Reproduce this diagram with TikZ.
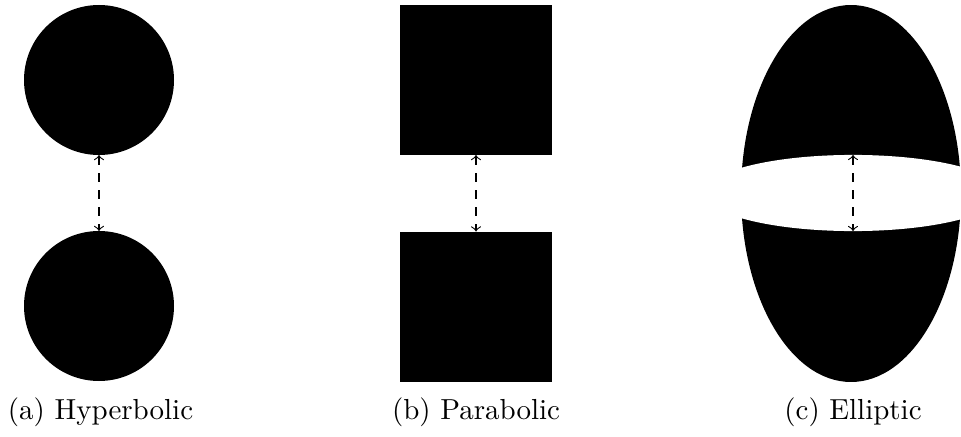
\documentclass[tikz,border=0pt]{standalone}
\usepackage{tikz}
\usetikzlibrary{shapes.geometric}
\tikzset{
  blob-circle/.style={circle,fill=black,inner sep=0pt,outer sep=0pt,minimum size=52.8pt},
  blob-square/.style={rectangle,fill=black,inner sep=0pt,outer sep=0pt,
    minimum width=53.5pt,minimum height=52.8pt},
  blob-ellipse/.style={ellipse,fill=black,inner sep=0pt,outer sep=0pt,
    minimum width=77.4pt,minimum height=132.7pt},
  gap-band/.style={ellipse,fill=white,inner sep=0pt,outer sep=0pt,
    minimum width=104.9pt,minimum height=26.8pt},
  arrow-dist/.style={<->,dashed,thin},
  caption/.style={anchor=base,inner sep=0pt,font=\fontsize{10.2}{12}\selectfont},
}
\begin{document}
\begin{tikzpicture}[x=0.352pt,y=-0.352pt]
  \useasboundingbox (0,0) rectangle (961,436);
  % hyperbolic
  \node[blob-circle] (hypTop) at (99,80) {};
  \node[blob-circle] (hypBot) at (99,306) {};
  \draw[arrow-dist] (hypTop.south) -- (hypBot.north);
  % parabolic
  \node[blob-square] (parTop) at (476,80) {};
  \node[blob-square] (parBot) at (476,306.5) {};
  \draw[arrow-dist] (parTop.south) -- (parBot.north);
  % elliptic
  \node[blob-ellipse] (ell) at (851,193.5) {};
  \node[gap-band] (gap) at (853,193) {};
  \draw[arrow-dist] (gap.north) -- (gap.south);
  % captions
  \node[caption] (capA) at (100.5,419) {(a) Hyperbolic};
  \node[caption] (capB) at (476,419) {(b) Parabolic};
  \node[caption] (capC) at (853,419) {(c) Elliptic};
\end{tikzpicture}
\end{document}
